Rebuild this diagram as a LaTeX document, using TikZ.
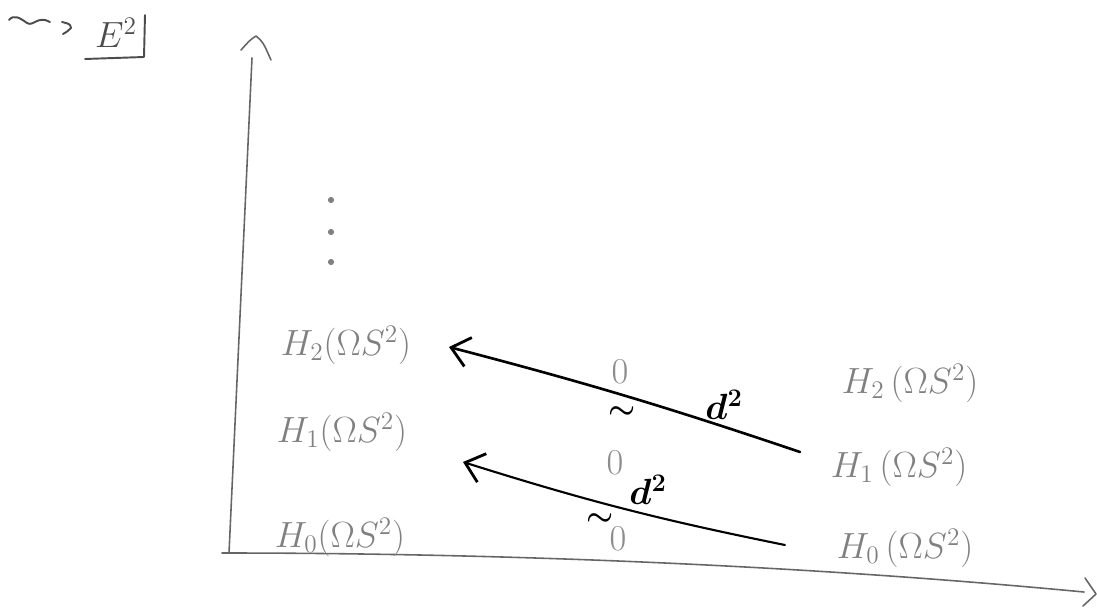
\documentclass[tikz,border=0pt]{standalone}
\usepackage{amsmath,amssymb}
\usetikzlibrary{arrows.meta}
\begin{document}
\begin{tikzpicture}[x=0.02cm,y=-0.02cm,
  lab/.style={text=black!50,font=\fontsize{22}{24}\selectfont,inner sep=0pt},
  zero/.style={text=black!45,font=\fontsize{21}{23}\selectfont,inner sep=0pt},
  dlab/.style={text=black,font=\fontsize{22}{24}\selectfont\boldmath,inner sep=0pt},
  tld/.style={text=black,font=\fontsize{17}{19}\selectfont\boldmath,inner sep=0pt},
  axis/.style={draw=black!60,line width=0.9pt,line cap=round,line join=round},
  hand/.style={draw=black!70,line width=1.1pt,line cap=round,line join=round},
  diff/.style={draw=black,line width=1.5pt,line cap=round,
     -{Straight Barb[length=10pt,width=17pt,line width=1.6pt]}},
  dotm/.style={circle,fill=black!50,inner sep=0pt,minimum size=3.5pt}]
\useasboundingbox (0,0) rectangle (1097,611);
% title: squiggly arrow, E^2 with corner bracket
\coordinate (w0) at (9,20);
\coordinate (w1) at (50,22);
\draw[hand] (w0) .. controls (14,14) and (20,18) .. (27,23)
  .. controls (33,27) and (38,15) .. (w1);
\coordinate (g1) at (62,22);
\coordinate (g2) at (71,28);
\coordinate (g3) at (63,34);
\draw[hand] (g1) .. controls (70,24) .. (g2) .. controls (68,31) .. (g3);
\node[text=black!70,font=\fontsize{22}{24}\selectfont,inner sep=0pt] (E) at (116,33) {$E^2$};
\coordinate (b1) at (85,59);
\coordinate (b2) at (144,57);
\coordinate (b3) at (145,15);
\draw[hand] (b1) -- (b2) -- (b3);
% y axis
\coordinate (yb) at (229,553);
\coordinate (yt) at (252,58);
\draw[axis] (yb) -- (yt);
\coordinate (ya1) at (241,50);
\coordinate (ya2) at (256,36);
\coordinate (ya3) at (271,60);
\draw[axis] (ya1) .. controls (250,40) .. (ya2) .. controls (263,42) .. (ya3);
% x axis
\coordinate (xl) at (222,553);
\coordinate (xr) at (1084,592);
\draw[axis] (xl) .. controls (500,553) and (800,565) .. (xr);
\coordinate (xa1) at (1085,578);
\coordinate (xa2) at (1096,594);
\coordinate (xa3) at (1083,606);
\draw[axis] (xa1) -- (xa2) -- (xa3);
% dots
\node[dotm] (p1) at (331,200) {};
\node[dotm] (p2) at (331,232) {};
\node[dotm] (p3) at (331,262) {};
% left labels
\node[lab] (l2) at (346,345) {$H_2(\Omega S^2)$};
\node[lab] (l1) at (342,432) {$H_1(\Omega S^2)$};
\node[lab] (l0) at (340,537) {$H_0(\Omega S^2)$};
% right labels
\node[lab] (r2) at (910,383) {$H_2\,(\Omega S^2)$};
\node[lab] (r1) at (899,467) {$H_1\,(\Omega S^2)$};
\node[lab] (r0) at (905,548) {$H_0\,(\Omega S^2)$};
% zeros
\node[zero] (z2) at (620,372) {$0$};
\node[zero] (z1) at (615,463) {$0$};
\node[zero] (z0) at (618,539) {$0$};
% differentials
\coordinate (s1) at (800,452);
\coordinate (e1) at (449,347);
\draw[diff] (s1) to[bend right=2] (e1);
\coordinate (s2) at (785,545);
\coordinate (e2) at (463,462);
\draw[diff,line width=1.2pt] (s2) to[bend left=3] (e2);
\node[dlab] (d1) at (724,405) {$d^2$};
\node[dlab] (d2) at (648,490) {$d^2$};
\node[tld] (t1) at (622,413) {$\sim$};
\node[tld] (t2) at (600,520) {$\sim$};
\end{tikzpicture}
\end{document}
